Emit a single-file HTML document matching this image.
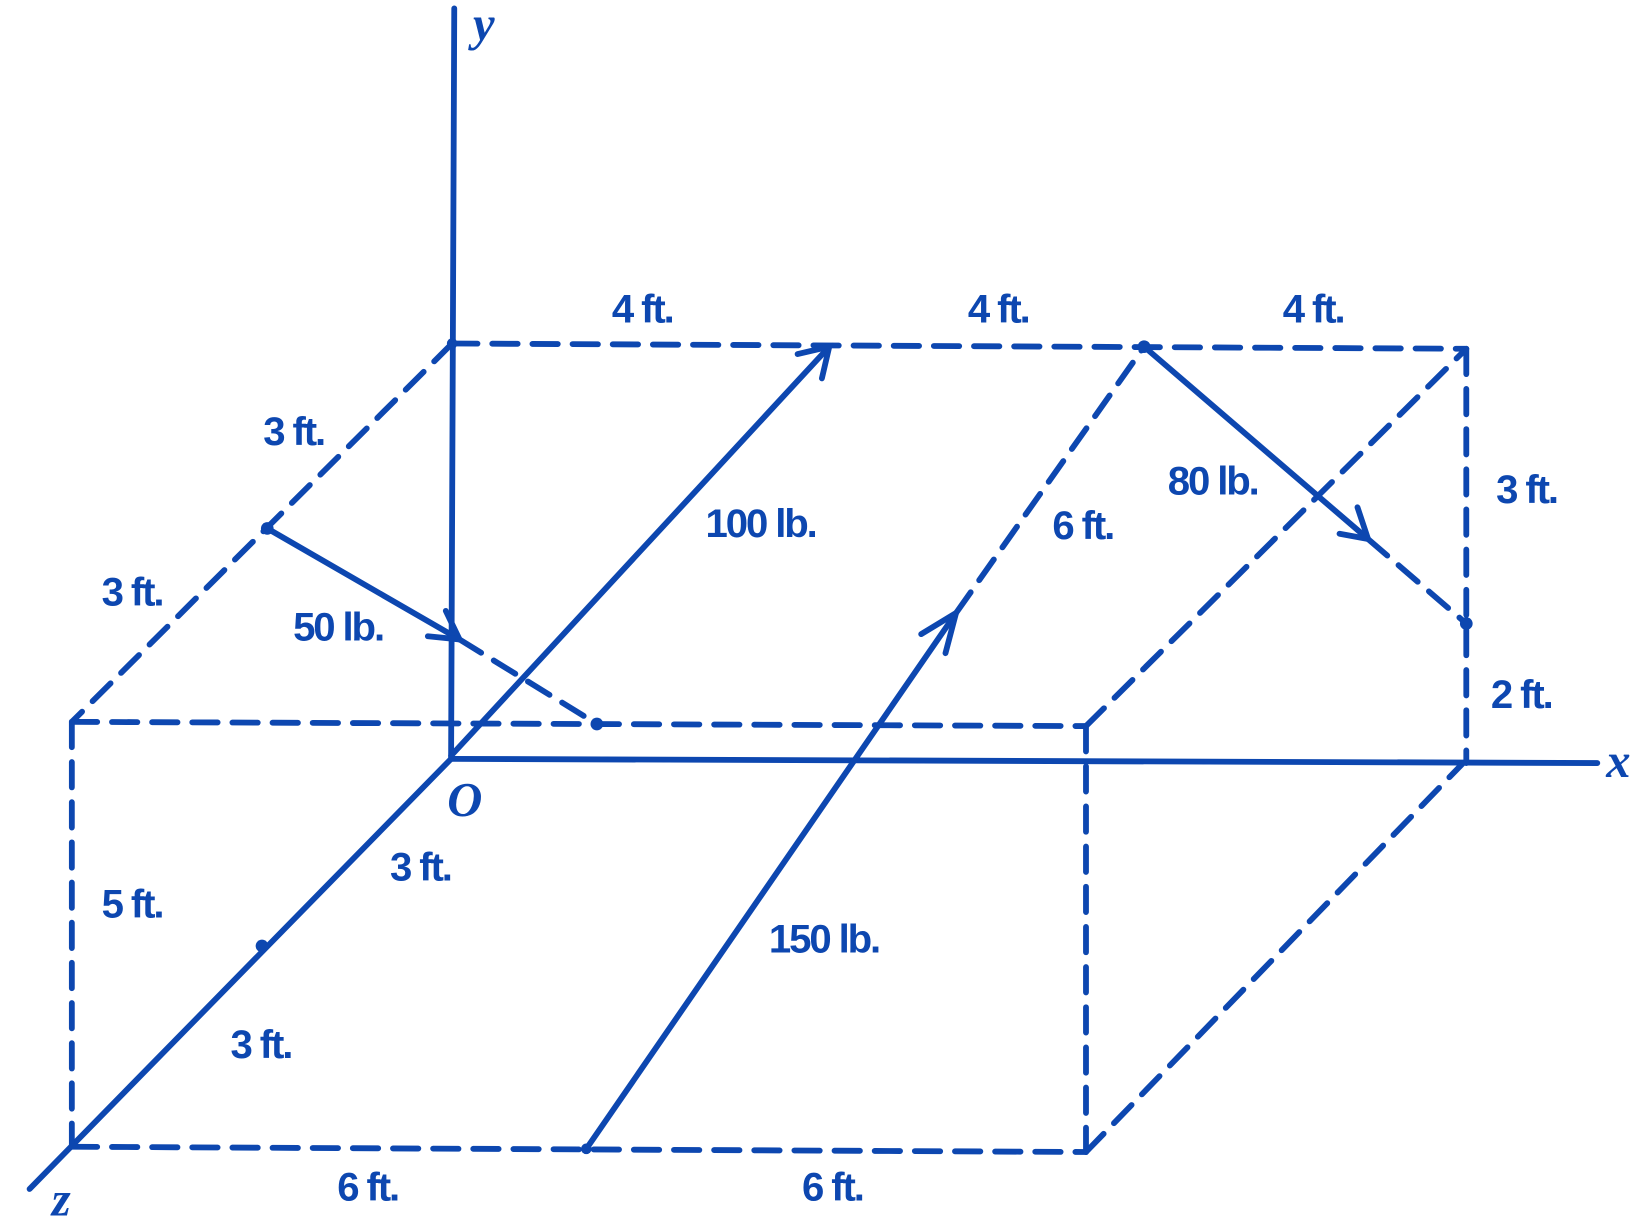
<!DOCTYPE html>
<html><head><meta charset="utf-8"><style>
html,body{margin:0;padding:0;background:#fff;}
svg{display:block;}
text{font-family:"Liberation Sans",sans-serif;font-weight:bold;fill:#0d47b0;font-size:38px;text-anchor:middle;letter-spacing:-2px;}
.it{font-family:"Liberation Serif",serif;font-style:italic;font-size:46px;letter-spacing:0;}
</style></head><body>
<svg width="1648" height="1226" viewBox="0 0 1560 1160" preserveAspectRatio="none">
<g stroke="#0d47b0" stroke-width="5.5" fill="none" stroke-linecap="round">
<line x1="430" y1="8" x2="427" y2="718"/>
<line x1="427" y1="718" x2="1512" y2="722"/>
<line x1="427" y1="718" x2="28" y2="1125"/>
<g stroke-dasharray="24 14">
<line x1="428" y1="325" x2="1388" y2="330"/>
<line x1="428" y1="325" x2="68" y2="683"/>
<line x1="68" y1="683" x2="1028" y2="687"/>
<line x1="1028" y1="687" x2="1388" y2="330"/>
<line x1="1388" y1="330" x2="1388" y2="722"/>
<line x1="68" y1="683" x2="68" y2="1085"/>
<line x1="68" y1="1085" x2="1028" y2="1090"/>
<line x1="1028" y1="687" x2="1028" y2="1090"/>
<line x1="1028" y1="1090" x2="1385" y2="722"/>
<line x1="905" y1="580" x2="1083" y2="328"/>
<line x1="1295" y1="510" x2="1388" y2="590"/>
<line x1="435" y1="605" x2="565" y2="685"/>
</g>
<line x1="427" y1="715" x2="785" y2="328"/>
<polyline points="755,335 785,328 778,358"/>
<line x1="555" y1="1087" x2="905" y2="580"/>
<polyline points="872,600 905,580 895,618"/>
<line x1="1083" y1="328" x2="1295" y2="510"/>
<polyline points="1268,505 1295,510 1285,480"/>
<line x1="253" y1="500" x2="435" y2="605"/>
<polyline points="405,602 435,605 422,578"/>
</g>
<g fill="#0d47b0">
<circle cx="253" cy="500" r="6"/><circle cx="565" cy="685" r="6"/>
<circle cx="1388" cy="590" r="6"/><circle cx="1083" cy="328" r="6"/>
<circle cx="428" cy="325" r="5"/><circle cx="248" cy="895" r="6"/>
<circle cx="555" cy="1087" r="5"/>
</g>
<text x="608" y="305">4 ft.</text>
<text x="945" y="305">4 ft.</text>
<text x="1243" y="305">4 ft.</text>
<text x="278" y="421">3 ft.</text>
<text x="125" y="573">3 ft.</text>
<text x="320" y="606">50 lb.</text>
<text x="720" y="508">100 lb.</text>
<text x="1025" y="510">6 ft.</text>
<text x="1148" y="468">80 lb.</text>
<text x="1445" y="476">3 ft.</text>
<text x="1440" y="670">2 ft.</text>
<text x="125" y="868">5 ft.</text>
<text x="398" y="833">3 ft.</text>
<text x="780" y="901">150 lb.</text>
<text x="247" y="1001">3 ft.</text>
<text x="348" y="1136">6 ft.</text>
<text x="788" y="1136">6 ft.</text>
<text class="it" x="458" y="38">y</text>
<text class="it" x="440" y="772">O</text>
<text class="it" x="1532" y="735">x</text>
<text class="it" x="58" y="1150">z</text>
</svg>
</body></html>
